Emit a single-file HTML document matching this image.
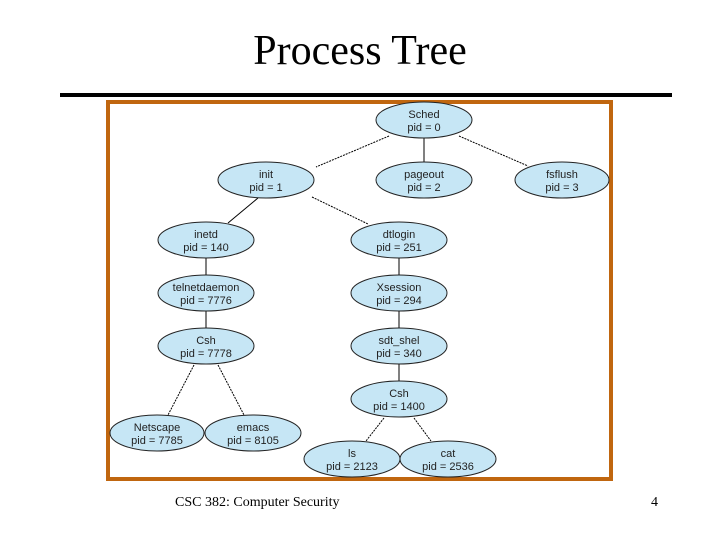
<!DOCTYPE html>
<html><head><style>
html,body{margin:0;padding:0;background:#fff;}
body{width:720px;height:540px;position:relative;overflow:hidden;font-family:"Liberation Serif",serif;}
.t{position:absolute;left:0;width:720px;top:26px;text-align:center;font-size:42px;line-height:50px;}
.f{position:absolute;top:495px;font-size:14px;}
</style></head><body>
<div class="t">Process Tree</div>
<div style="position:absolute;left:60px;top:93px;width:612px;height:4px;background:#000"></div>
<svg style="position:absolute;left:0;top:0" width="720" height="540">
<rect x="108" y="102" width="503" height="377" fill="#fff" stroke="#c0660f" stroke-width="4"/>
<g stroke="#000" stroke-width="1">
<line x1="389" y1="136" x2="316" y2="167" stroke-dasharray="2,1"/>
<line x1="424" y1="138" x2="424" y2="162"/>
<line x1="459" y1="136" x2="528" y2="166" stroke-dasharray="2,1"/>
<line x1="258" y1="198" x2="228" y2="223"/>
<line x1="312" y1="197" x2="368" y2="224" stroke-dasharray="2,1"/>
<line x1="206" y1="258" x2="206" y2="276"/>
<line x1="399" y1="258" x2="399" y2="276"/>
<line x1="206" y1="311" x2="206" y2="329"/>
<line x1="399" y1="311" x2="399" y2="329"/>
<line x1="399" y1="364" x2="399" y2="382"/>
<line x1="194" y1="365" x2="168" y2="415" stroke-dasharray="2,1"/>
<line x1="218" y1="365" x2="244" y2="415" stroke-dasharray="2,1"/>
<line x1="384" y1="418" x2="366" y2="441" stroke-dasharray="2,1"/>
<line x1="414" y1="418" x2="431" y2="441" stroke-dasharray="2,1"/>
</g>
<g fill="#c6e6f5" stroke="#222" stroke-width="1">
<ellipse cx="424" cy="120" rx="48" ry="18"/>
<ellipse cx="266" cy="180" rx="48" ry="18"/>
<ellipse cx="424" cy="180" rx="48" ry="18"/>
<ellipse cx="562" cy="180" rx="47" ry="18"/>
<ellipse cx="206" cy="240" rx="48" ry="18"/>
<ellipse cx="399" cy="240" rx="48" ry="18"/>
<ellipse cx="206" cy="293" rx="48" ry="18"/>
<ellipse cx="399" cy="293" rx="48" ry="18"/>
<ellipse cx="206" cy="346" rx="48" ry="18"/>
<ellipse cx="399" cy="346" rx="48" ry="18"/>
<ellipse cx="399" cy="399" rx="48" ry="18"/>
<ellipse cx="157" cy="433" rx="47" ry="18"/>
<ellipse cx="253" cy="433" rx="48" ry="18"/>
<ellipse cx="352" cy="459" rx="48" ry="18"/>
<ellipse cx="448" cy="459" rx="48" ry="18"/>
</g>
<g font-family="Liberation Sans,sans-serif" font-size="11" text-anchor="middle" fill="#222">
<text x="424" y="118">Sched</text><text x="424" y="131">pid = 0</text>
<text x="266" y="178">init</text><text x="266" y="191">pid = 1</text>
<text x="424" y="178">pageout</text><text x="424" y="191">pid = 2</text>
<text x="562" y="178">fsflush</text><text x="562" y="191">pid = 3</text>
<text x="206" y="238">inetd</text><text x="206" y="251">pid = 140</text>
<text x="399" y="238">dtlogin</text><text x="399" y="251">pid = 251</text>
<text x="206" y="291">telnetdaemon</text><text x="206" y="304">pid = 7776</text>
<text x="399" y="291">Xsession</text><text x="399" y="304">pid = 294</text>
<text x="206" y="344">Csh</text><text x="206" y="357">pid = 7778</text>
<text x="399" y="344">sdt_shel</text><text x="399" y="357">pid = 340</text>
<text x="399" y="397">Csh</text><text x="399" y="410">pid = 1400</text>
<text x="157" y="431">Netscape</text><text x="157" y="444">pid = 7785</text>
<text x="253" y="431">emacs</text><text x="253" y="444">pid = 8105</text>
<text x="352" y="457">ls</text><text x="352" y="470">pid = 2123</text>
<text x="448" y="457">cat</text><text x="448" y="470">pid = 2536</text>
</g>
</svg>
<div class="f" style="left:175px">CSC 382: Computer Security</div>
<div class="f" style="left:651px">4</div>
</body></html>
